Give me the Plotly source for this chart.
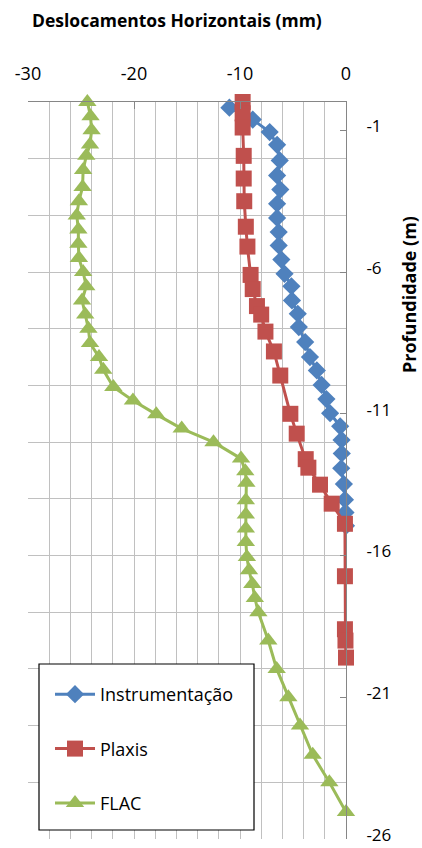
import plotly.graph_objects as go

# ---- data ----
inst_depth = [-0.2, -0.62, -1.06, -1.51, -2.06, -2.59, -3.09, -3.59, -4.09, -4.59, -5.06, -5.56,
              -6.06, -6.5, -7.0, -7.47, -7.94, -8.47, -9.0, -9.47, -9.98, -10.48, -10.98, -11.44,
              -11.92, -12.4, -12.92, -13.48, -14.03, -14.48, -14.95]
inst_disp = [-11.0, -8.8, -7.2, -6.5, -6.25, -6.5, -6.2, -6.5, -6.5, -6.35, -6.35, -6.1,
             -5.8, -5.15, -5.1, -4.55, -4.45, -3.85, -3.4, -2.75, -2.3, -1.85, -1.5, -0.55,
             -0.42, -0.4, -0.45, -0.2, -0.1, -0.05, 0.0]

plaxis_depth = [0.0, -0.4, -0.9, -1.9, -2.7, -3.5, -4.4, -5.1, -6.1, -6.6, -7.2, -7.5, -8.1,
                -8.8, -9.65, -11.0, -11.7, -12.6, -12.9, -13.5, -14.17, -14.88, -16.73, -18.6,
                -19.0, -19.6]
plaxis_disp = [-9.75, -9.75, -9.75, -9.65, -9.65, -9.6, -9.45, -9.3, -9.0, -8.8, -8.4, -8.0,
               -7.6, -6.8, -6.2, -5.25, -4.65, -3.8, -3.55, -2.45, -1.35, -0.1, -0.1, -0.1,
               -0.05, 0.0]

flac_depth = [0.0, -0.5, -1.0, -1.5, -1.9, -2.4, -3.0, -3.5, -4.0, -4.5, -5.0, -5.5, -6.0,
              -6.5, -7.0, -7.5, -8.0, -8.5, -9.0, -9.45, -10.05, -10.53, -11.02, -11.52, -12.0,
              -12.58, -13.03, -13.43, -14.05, -14.55, -15.05, -15.52, -16.05, -16.52, -17.0,
              -17.5, -18.0, -19.0, -20.0, -21.0, -22.0, -23.03, -24.0, -25.05]
flac_disp = [-24.4, -24.1, -24.0, -24.15, -24.5, -24.8, -24.85, -25.2, -25.4, -25.25, -25.25,
             -25.2, -24.8, -24.5, -24.9, -24.6, -24.3, -24.15, -23.3, -22.9, -21.95, -20.1,
             -17.9, -15.5, -12.5, -9.9, -9.5, -9.4, -9.45, -9.45, -9.45, -9.45, -9.35, -9.15,
             -8.84, -8.6, -8.27, -7.33, -6.54, -5.44, -4.34, -3.14, -1.57, 0.0]

series_names = ["Instrumentação", "Plaxis", "FLAC"]

x_title = "Deslocamentos Horizontais (mm)"
y_title = "Profundidade (m)"
x_tickvals = [-30, -20, -10, 0]
x_ticktext = ["-30", "-20", "-10", "0"]
y_tickvals = [-1, -6, -11, -16, -21, -26]
y_ticktext = ["-1", "-6", "-11", "-16", "-21", "-26"]

BLUE = "#4F81BD"
RED = "#C0504D"
GREEN = "#9BBB59"
GRID = "#C0C0C0"
AXIS = "#868686"
FONT = "Open Sans"

fig = go.Figure()
fig.add_trace(go.Scatter(
    x=inst_disp, y=inst_depth, name=series_names[0], mode="lines+markers",
    line=dict(color=BLUE, width=3), marker=dict(symbol="diamond", size=14, color=BLUE),
    cliponaxis=False, legendgroup="a"))
fig.add_trace(go.Scatter(
    x=plaxis_disp, y=plaxis_depth, name=series_names[1], mode="lines+markers",
    line=dict(color=RED, width=3), marker=dict(symbol="square", size=16, color=RED),
    cliponaxis=False, legendgroup="b"))
fig.add_trace(go.Scatter(
    x=flac_disp, y=flac_depth, name=series_names[2], mode="lines+markers",
    line=dict(color=GREEN, width=3), marker=dict(symbol="triangle-up", size=16, color=GREEN),
    cliponaxis=False, legendgroup="c"))

L, R, T, B = 28, 76, 102, 9
W, H = 422, 848
pw, ph = W - L - R, H - T - B

def px_x(p):
    return (p - L) / pw

def px_y(p):
    return 1 - (p - T) / ph

fig.update_layout(
    width=W, height=H,
    margin=dict(l=L, r=R, t=T, b=B, pad=0, autoexpand=False),
    paper_bgcolor="white", plot_bgcolor="white",
    font=dict(family=FONT, size=18, color="#000000"),
    title=dict(
        text="<b>" + x_title + "</b>", xref="container", yref="container",
        x=32 / W, y=1 - 21 / H, xanchor="left", yanchor="middle",
        font=dict(family=FONT, size=17.5, color="#000000"),
    ),
    showlegend=True,
    legend=dict(
        x=px_x(50), y=px_y(676), xanchor="left", yanchor="top",
        bgcolor="rgba(0,0,0,0)", borderwidth=0,
        font=dict(family=FONT, size=18, color="#000000"),
        traceorder="grouped", tracegroupgap=28, itemwidth=40,
    ),
    xaxis=dict(
        side="top", range=[-30, 0], tickvals=x_tickvals, ticktext=x_ticktext,
        ticks="inside", ticklen=7, tickcolor=AXIS, tickwidth=1,
        showgrid=False, zeroline=False, automargin=False,
        showline=True, linecolor=AXIS, linewidth=1, mirror=False,
        minor=dict(dtick=2, tick0=0, showgrid=True, gridcolor=GRID, gridwidth=1, ticks=""),
        tickfont=dict(family=FONT, size=18, color="#000000"),
        ticklabelstandoff=14, ticklabeloverflow="allow",
    ),
    yaxis=dict(
        side="right", range=[-26, 0], tickvals=y_tickvals, ticktext=y_ticktext,
        ticks="inside", ticklen=6, tickcolor=AXIS, tickwidth=1,
        showgrid=False, zeroline=False, automargin=False,
        showline=True, linecolor=AXIS, linewidth=1,
        minor=dict(dtick=2, tick0=0, showgrid=True, gridcolor=GRID, gridwidth=1, ticks=""),
        tickfont=dict(family=FONT, size=17, color="#000000"),
        ticklabelstandoff=16, ticklabelshift=-4, ticklabeloverflow="allow",
    ),
    shapes=[dict(
        type="rect", xref="paper", yref="paper",
        x0=px_x(39), x1=px_x(254), y0=px_y(830), y1=px_y(664),
        line=dict(color="#000000", width=1.2), fillcolor="white", layer="above",
    )],
    annotations=[
        dict(text="<b>" + y_title + "</b>", xref="paper", yref="paper",
             x=px_x(409), y=px_y(295), xanchor="center", yanchor="middle", showarrow=False,
             textangle=-90, font=dict(family=FONT, size=18, color="#000000")),
    ],
)

fig.write_html("out.html")
